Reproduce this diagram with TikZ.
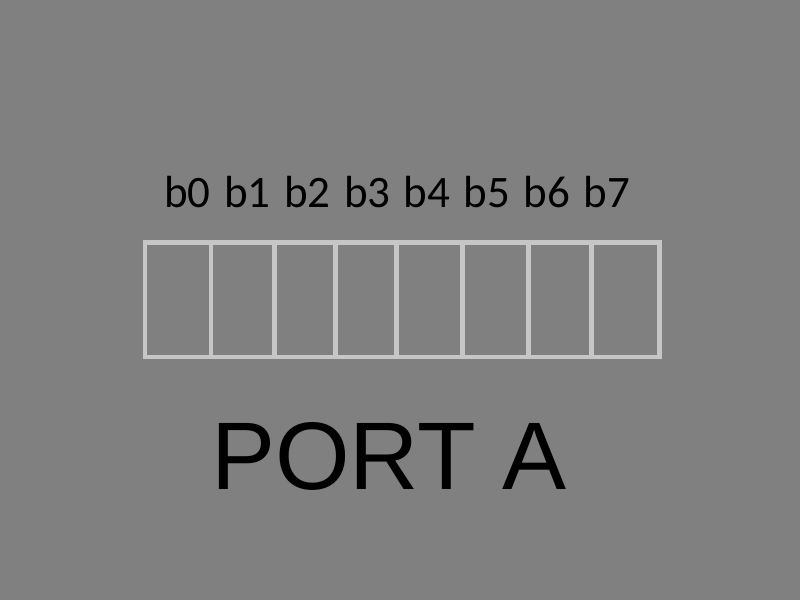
\documentclass[tikz,border=0pt]{standalone}
\usepackage{fontspec}
\newfontfamily\labfont{Carlito}
\newfontfamily\portfont{Liberation Sans}
\definecolor{bggray}{RGB}{128,128,128}
\definecolor{linegray}{RGB}{198,198,198}
\begin{document}
\begin{tikzpicture}[x=1pt,y=-1pt,
  cellline/.style={draw=linegray,line width=4.5pt,line join=miter},
  bitlabel/.style={anchor=base,inner sep=0pt,font=\labfont\fontsize{45}{54}\selectfont,text=black},
  portlabel/.style={anchor=base,inner sep=0pt,font=\portfont\fontsize{96}{115}\selectfont,text=black}]
\fill[bggray] (0,0) rectangle (800,600);
\useasboundingbox (0,0) rectangle (800,600);
% register frame
\draw[cellline] (145,242.5) rectangle (659.5,357);
\foreach \xx in {211,274.7,335.5,396.7,462.5,528.5,591.5}{
  \draw[cellline] (\xx,242.5) -- (\xx,357);
}
% bit labels
\foreach \i/\xx in {0/187.5,1/247.5,2/307.5,3/367.5,4/427,5/487,6/547,7/607}{
  \node[bitlabel] (b\i) at (\xx,207.5) {b\i};
}
\node[portlabel] (port) at (389,489.3) {PORT A};
\end{tikzpicture}
\end{document}
